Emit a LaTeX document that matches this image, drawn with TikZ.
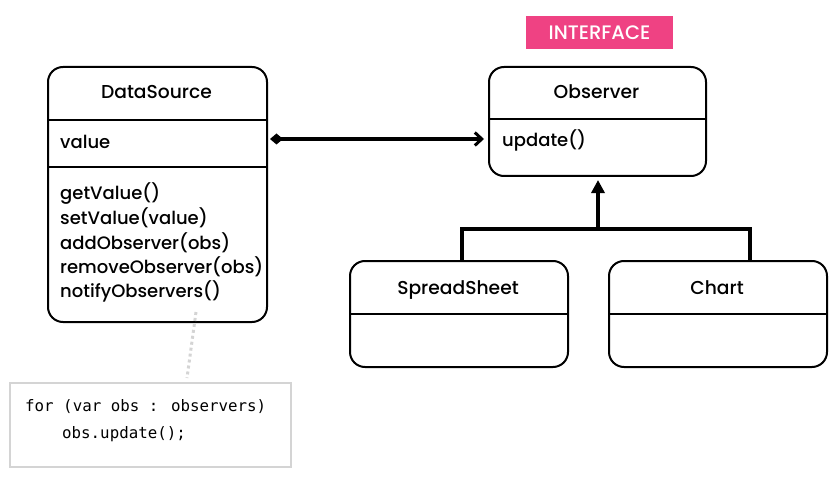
\documentclass[tikz,border=0pt]{standalone}
\usepackage{fontspec}
\setmainfont{Poppins Medium}
\newfontfamily\codefont{DejaVu Sans Mono}
\usetikzlibrary{arrows.meta,calc}
\definecolor{pink}{HTML}{EF4283}
\definecolor{codegray}{HTML}{D4D4D4}
\tikzset{
  umlbox/.style={draw=black, line width=2pt, rounded corners=15pt, anchor=north west, inner sep=0pt},
  divider/.style={draw=black, line width=2pt},
  titletext/.style={font=\fontsize{18.7}{20}\selectfont, inner sep=0pt, anchor=base},
  membertext/.style={font=\fontsize{18}{20}\selectfont, inner sep=0pt, anchor=base west},
  codetext/.style={font=\codefont\fontsize{15.8}{17}\selectfont, inner sep=0pt, anchor=base west},
  conn/.style={draw=black, line width=3.2pt},
}
\begin{document}
\begin{tikzpicture}[x=1pt,y=-1pt]
\useasboundingbox (0,0) rectangle (837,481);
% INTERFACE label
\node[fill=pink, minimum width=147pt, minimum height=33pt, inner sep=0pt, anchor=north west] (iface) at (526,16) {};
\node[text=white, font=\fontsize{19.5}{21}\selectfont, inner sep=0pt, anchor=base] (ifacet) at (599.5,39.5) {INTERFACE};
% DataSource
\node[umlbox, minimum width=219pt, minimum height=255pt] (ds) at (47,66) {};
\draw[divider] (ds.west |- 0,120) -- (ds.east |- 0,120);
\draw[divider] (ds.west |- 0,167) -- (ds.east |- 0,167);
\node[titletext] (dst) at (156.5,99) {DataSource};
\node[membertext] (dsv) at (60,149) {value};
\node[membertext] (m1) at (60,200) {getValue()};
\node[membertext] (m2) at (60,224.5) {setValue(value)};
\node[membertext] (m3) at (60,249) {addObserver(obs)};
\node[membertext] (m4) at (60,273) {removeObserver(obs)};
\node[membertext] (m5) at (60,297) {notifyObservers()};
% Observer
\node[umlbox, minimum width=217pt, minimum height=109pt] (obs) at (488,66) {};
\draw[divider] (obs.west |- 0,119) -- (obs.east |- 0,119);
\node[titletext] (obst) at (596.5,99) {Observer};
\node[membertext] (obsu) at (502,147) {update()};
% SpreadSheet
\node[umlbox, minimum width=218pt, minimum height=106pt] (ss) at (349,260) {};
\draw[divider] (ss.west |- 0,314) -- (ss.east |- 0,314);
\node[titletext] (sst) at (458,294) {SpreadSheet};
% Chart
\node[umlbox, minimum width=218pt, minimum height=106pt] (ch) at (608,260) {};
\draw[divider] (ch.west |- 0,314) -- (ch.east |- 0,314);
\node[titletext] (cht) at (717,294) {Chart};
% association
\draw[conn, {Diamond[length=13pt,width=11pt]}-{Straight Barb[length=7pt,width=13pt,line width=3pt]}]
  ([xshift=2pt]ds.east |- 0,139) -- ([xshift=-4pt]obs.west |- 0,139);
% inheritance
\coordinate (j) at (598,229);
\draw[conn] ([xshift=3pt]ss.north) |- (j) -| ([xshift=32pt]ch.north);
\draw[conn, -{Triangle[length=13pt,width=13pt]}] (j) -- ([yshift=-3pt]obs.south -| j);
% code note
\node[draw=codegray, line width=2pt, minimum width=281pt, minimum height=84pt, anchor=north west, inner sep=0pt] (code) at (9,382) {};
\node[codetext] (c1) at (25,411) {for (var obs : observers)};
\node[codetext] (c2) at (62,438) {obs.update();};
\coordinate (n) at (196,312);
\draw[draw=codegray, line width=3pt, dash pattern=on 3pt off 3pt] (n) -- ([xshift=36.5pt,yshift=4pt]code.north);
\end{tikzpicture}
\end{document}
